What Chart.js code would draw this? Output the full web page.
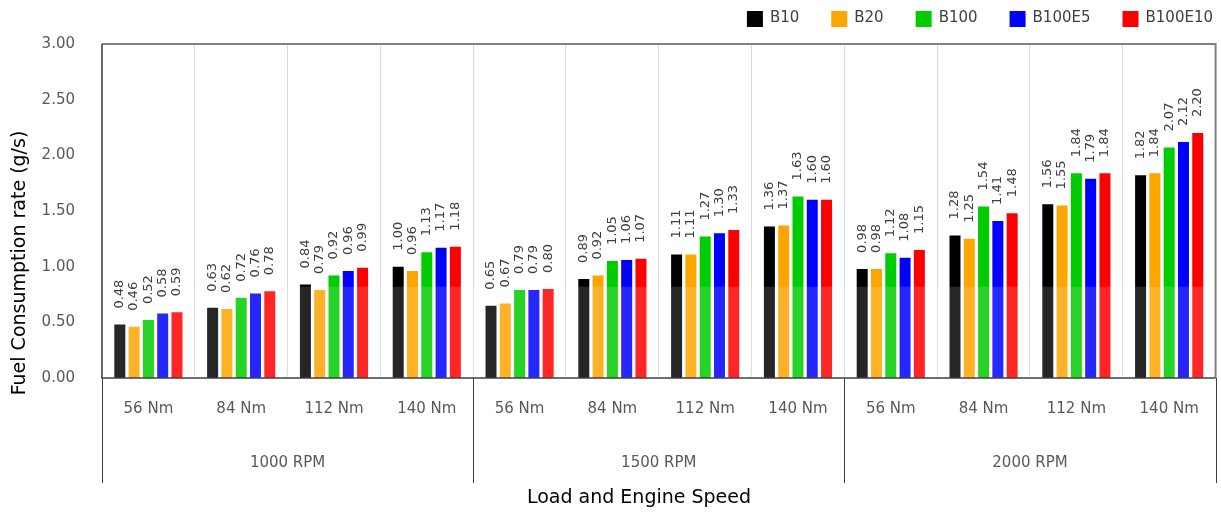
<!DOCTYPE html>
<html lang="en">
<head>
    <meta charset="UTF-8">
    <title>Fuel Consumption Rate</title>
    <script src="https://cdn.jsdelivr.net/npm/chart.js"></script>
    <style>
        body {
            margin: 0;
            padding: 0;
            background-color: #fff;
        }
    </style>
</head>
<body>
    <canvas id="fuelChart" width="1221" height="512"></canvas>

    <script>
        // Categories
        const loads = ['56 Nm', '84 Nm', '112 Nm', '140 Nm'];
        const speeds = ['1000 RPM', '1500 RPM', '2000 RPM'];
        const fuels = ['B10', 'B20', 'B100', 'B100E5', 'B100E10'];
        const fuelColors = ['#000000', '#FFA500', '#00CC00', '#0000FF', '#FF0000'];

        // Fuel consumption rate (g/s), 4 loads x 3 speeds
        const b10     = [0.48, 0.63, 0.84, 1.00, 0.65, 0.89, 1.11, 1.36, 0.98, 1.28, 1.56, 1.82];
        const b20     = [0.46, 0.62, 0.79, 0.96, 0.67, 0.92, 1.11, 1.37, 0.98, 1.25, 1.55, 1.84];
        const b100    = [0.52, 0.72, 0.92, 1.13, 0.79, 1.05, 1.27, 1.63, 1.12, 1.54, 1.84, 2.07];
        const b100e5  = [0.58, 0.76, 0.96, 1.17, 0.79, 1.06, 1.30, 1.60, 1.08, 1.41, 1.79, 2.12];
        const b100e10 = [0.59, 0.78, 0.99, 1.18, 0.80, 1.07, 1.33, 1.60, 1.15, 1.48, 1.84, 2.20];
        const seriesValues = [b10, b20, b100, b100e5, b100e10];

        const yTicks = [0, 0.5, 1, 1.5, 2, 2.5, 3];

        const categories = [];
        speeds.forEach(() => loads.forEach(l => categories.push(l)));

        const FONT = '"DejaVu Sans", sans-serif';

        const extrasPlugin = {
            id: 'extras',
            afterDatasetsDraw(chart) {
                const ctx = chart.ctx;
                const area = chart.chartArea;
                const y = chart.scales.y;

                // faint watermark band over lower part of plot
                ctx.save();
                const bandTop = y.getPixelForValue(0.82);
                ctx.fillStyle = 'rgba(255,255,255,0.15)';
                ctx.fillRect(area.left, bandTop, area.right - area.left, area.bottom - bandTop);
                ctx.restore();

                // rotated value labels
                ctx.save();
                ctx.font = '13px ' + FONT;
                ctx.fillStyle = '#404040';
                ctx.textAlign = 'left';
                ctx.textBaseline = 'middle';
                chart.data.datasets.forEach((ds, i) => {
                    chart.getDatasetMeta(i).data.forEach((bar, j) => {
                        ctx.save();
                        ctx.translate(bar.x, bar.y - 16);
                        ctx.rotate(-Math.PI / 2);
                        ctx.fillText(ds.data[j].toFixed(2), 0, 0);
                        ctx.restore();
                    });
                });
                ctx.restore();
            },
            afterDraw(chart) {
                const ctx = chart.ctx;
                const area = chart.chartArea;
                const x = chart.scales.x;
                const n = loads.length;

                ctx.save();
                // plot frame
                ctx.strokeStyle = '#808080';
                ctx.lineWidth = 2;
                ctx.beginPath();
                ctx.moveTo(area.left, area.top);
                ctx.lineTo(area.right, area.top);
                ctx.lineTo(area.right, area.bottom);
                ctx.stroke();

                ctx.strokeStyle = '#404040';
                ctx.lineWidth = 1.5;
                ctx.beginPath();
                ctx.moveTo(area.left, area.top);
                ctx.lineTo(area.left, area.bottom);
                ctx.lineTo(area.right, area.bottom);
                ctx.stroke();

                // group separators below the axis
                const step = x.getPixelForValue(1) - x.getPixelForValue(0);
                ctx.lineWidth = 1;
                for (let g = 0; g <= speeds.length; g++) {
                    const px = Math.round(x.getPixelForValue(g * n) - step / 2) + 0.5;
                    ctx.beginPath();
                    ctx.moveTo(px, area.bottom);
                    ctx.lineTo(px, area.bottom + 105);
                    ctx.stroke();
                }

                // speed labels
                ctx.font = '15px ' + FONT;
                ctx.fillStyle = '#595959';
                ctx.textAlign = 'center';
                ctx.textBaseline = 'middle';
                speeds.forEach((s, g) => {
                    const cx = (x.getPixelForValue(g * n) + x.getPixelForValue(g * n + n - 1)) / 2;
                    ctx.fillText(s, cx, 463);
                });

                // axis titles
                ctx.font = '19px ' + FONT;
                ctx.fillStyle = '#000';
                ctx.fillText('Load and Engine Speed', 639, 498);
                ctx.save();
                ctx.translate(20, 263);
                ctx.rotate(-Math.PI / 2);
                ctx.fillText('Fuel Consumption rate (g/s)', 0, 0);
                ctx.restore();

                // legend, right aligned
                ctx.font = '15px ' + FONT;
                ctx.textAlign = 'left';
                const box = 16, gapText = 7, gapItem = 32;
                let right = 1213;
                const items = [];
                for (let i = fuels.length - 1; i >= 0; i--) {
                    const w = ctx.measureText(fuels[i]).width;
                    const left = right - w - gapText - box;
                    items.push({ i, left });
                    right = left - gapItem;
                }
                items.forEach(it => {
                    ctx.fillStyle = fuelColors[it.i];
                    ctx.fillRect(it.left, 11, box, box);
                    ctx.fillStyle = '#404040';
                    ctx.fillText(fuels[it.i], it.left + box + gapText, 18);
                });
                ctx.restore();
            }
        };

        const fuelCtx = document.getElementById('fuelChart').getContext('2d');
        const fuelChart = new Chart(fuelCtx, {
            type: 'bar',
            data: {
                labels: categories,
                datasets: fuels.map((f, i) => ({
                    label: f,
                    data: seriesValues[i],
                    backgroundColor: fuelColors[i],
                    borderWidth: 0,
                    categoryPercentage: 0.77,
                    barPercentage: 0.77
                }))
            },
            options: {
                responsive: false,
                animation: false,
                layout: {
                    padding: { top: 44, right: 5, left: 0, bottom: 0 }
                },
                plugins: {
                    legend: { display: false },
                    tooltip: { enabled: false }
                },
                scales: {
                    x: {
                        grid: {
                            display: true,
                            offset: true,
                            color: '#d9d9d9',
                            drawTicks: false
                        },
                        border: { display: false },
                        ticks: {
                            padding: 22,
                            color: '#595959',
                            font: { family: FONT, size: 15 },
                            maxRotation: 0,
                            autoSkip: false
                        },
                        afterFit(scale) { scale.height = 134; }
                    },
                    y: {
                        min: 0,
                        max: 3,
                        grid: { display: false, drawTicks: false },
                        border: { display: false },
                        afterBuildTicks(scale) {
                            scale.ticks = yTicks.map(v => ({ value: v }));
                        },
                        ticks: {
                            padding: 27,
                            color: '#595959',
                            font: { family: FONT, size: 15 },
                            callback: v => Number(v).toFixed(2)
                        },
                        afterFit(scale) { scale.width = 102; }
                    }
                }
            },
            plugins: [extrasPlugin]
        });
    </script>
</body>
</html>
